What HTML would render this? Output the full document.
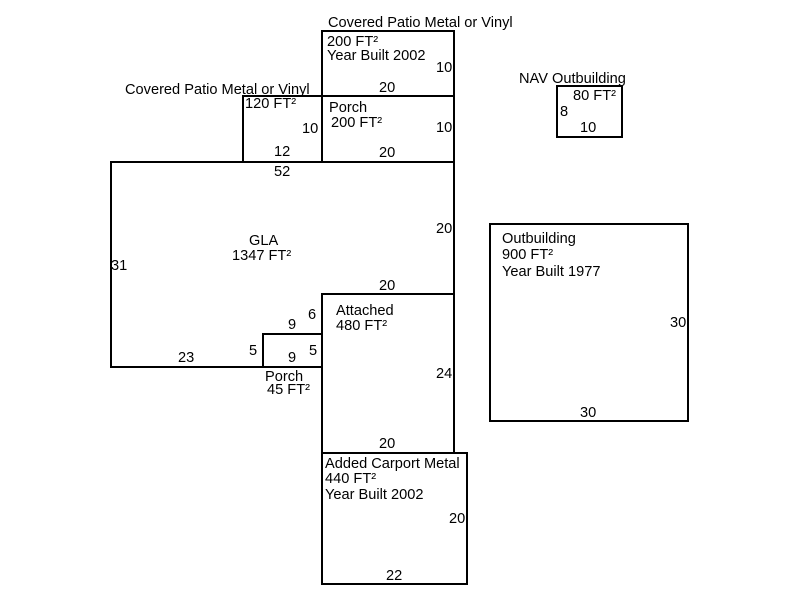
<!DOCTYPE html>
<html><head><meta charset="utf-8"><style>
html,body{margin:0;padding:0;background:#fff;}
svg{display:block;}
text{font-family:"Liberation Sans",Arial,sans-serif;font-size:14.6px;fill:#000;}
</style></head><body>
<svg width="800" height="600" viewBox="0 0 800 600" xmlns="http://www.w3.org/2000/svg">
<g fill="none" stroke="#000" stroke-width="2">
<rect x="322" y="31" width="132" height="65"/>
<rect x="322" y="96" width="132" height="66"/>
<rect x="243" y="96" width="79" height="66"/>
<polygon points="111,162 454,162 454,294 322,294 322,334 263,334 263,367 111,367"/>
<rect x="263" y="334" width="59" height="33"/>
<rect x="322" y="294" width="132" height="159"/>
<rect x="322" y="453" width="145" height="131"/>
<rect x="490" y="224" width="198" height="197"/>
<rect x="557" y="86" width="65" height="51"/>
</g>
<text x="328" y="27">Covered Patio Metal or Vinyl</text>
<text x="327" y="46">200 FT²</text>
<text x="327" y="60">Year Built 2002</text>
<text x="436" y="72">10</text>
<text x="379" y="92">20</text>
<text x="125" y="94">Covered Patio Metal or Vinyl</text>
<text x="245" y="108">120 FT²</text>
<text x="302" y="133">10</text>
<text x="274" y="156">12</text>
<text x="329" y="112">Porch</text>
<text x="331" y="127">200 FT²</text>
<text x="436" y="132">10</text>
<text x="379" y="157">20</text>
<text x="274" y="176">52</text>
<text x="249" y="245">GLA</text>
<text x="232" y="260">1347 FT²</text>
<text x="111" y="270">31</text>
<text x="436" y="233">20</text>
<text x="379" y="290">20</text>
<text x="288" y="329">9</text>
<text x="308" y="319">6</text>
<text x="249" y="355">5</text>
<text x="288" y="362">9</text>
<text x="309" y="355">5</text>
<text x="178" y="362">23</text>
<text x="265" y="381">Porch</text>
<text x="267" y="394">45 FT²</text>
<text x="336" y="315">Attached</text>
<text x="336" y="330">480 FT²</text>
<text x="436" y="378">24</text>
<text x="379" y="448">20</text>
<text x="325" y="468">Added Carport Metal</text>
<text x="325" y="483">440 FT²</text>
<text x="325" y="499">Year Built 2002</text>
<text x="449" y="523">20</text>
<text x="386" y="580">22</text>
<text x="502" y="243">Outbuilding</text>
<text x="502" y="259">900 FT²</text>
<text x="502" y="276">Year Built 1977</text>
<text x="670" y="327">30</text>
<text x="580" y="417">30</text>
<text x="519" y="83">NAV Outbuilding</text>
<text x="573" y="100">80 FT²</text>
<text x="560" y="116">8</text>
<text x="580" y="132">10</text>
</svg>
</body></html>
